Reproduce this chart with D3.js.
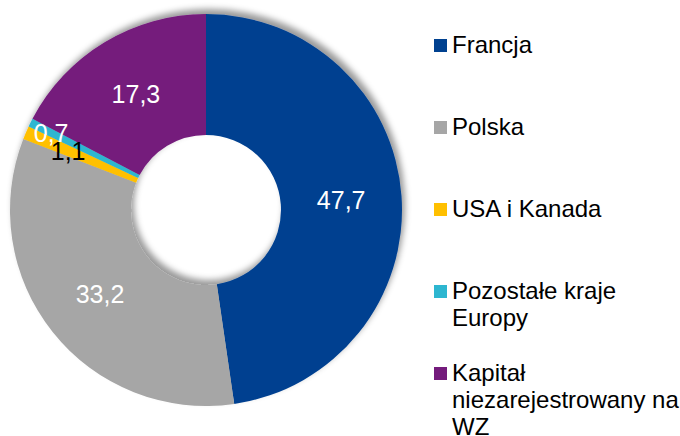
<!DOCTYPE html>
<html>
<head>
<meta charset="utf-8">
<script src="https://cdn.jsdelivr.net/npm/d3@7"></script>
<style>
  body { margin: 0; background: #fff; }
  svg { display: block; font-family: "Liberation Sans", Arial, sans-serif; }
</style>
</head>
<body>
<div id="chart"></div>
<script>
var WIDTH = 680;
var HEIGHT = 436;

// data
var categories = ["Francja", "Polska", "USA i Kanada", "Pozostałe kraje Europy", "Kapitał niezarejestrowany na WZ"];
var shares = [47.7, 33.2, 1.1, 0.7, 17.3];
var labels = ["47,7", "33,2", "1,1", "0,7", "17,3"];
var legendLines = [["Francja"], ["Polska"], ["USA i Kanada"], ["Pozostałe kraje", "Europy"], ["Kapitał", "niezarejestrowany na", "WZ"]];

var colors = ["#004190", "#a6a6a6", "#ffc000", "#2db6d0", "#741b7c"];
var labelColors = ["#fff", "#fff", "#000", "#fff", "#fff"];

var CX = 206;
var CY = 210;
var OUTER = 196;
var INNER = 75;

var svg = d3.select("#chart").append("svg")
  .attr("width", WIDTH)
  .attr("height", HEIGHT);

// soft shadow like the original office chart
var defs = svg.append("defs");
defs.append("filter")
  .attr("id", "shadow")
  .attr("x", "-20%").attr("y", "-20%")
  .attr("width", "140%").attr("height", "140%")
  .append("feDropShadow")
  .attr("dx", 3)
  .attr("dy", -5)
  .attr("stdDeviation", 3)
  .attr("flood-color", "#000")
  .attr("flood-opacity", 0.4);

var pie = d3.pie().sort(null).value(function(d) { return d; });
var arcs = pie(shares);

var arc = d3.arc().innerRadius(INNER).outerRadius(OUTER);

var plot = svg.append("g")
  .attr("transform", "translate(" + CX + "," + CY + ")");

plot.append("g")
  .attr("filter", "url(#shadow)")
  .selectAll("path")
  .data(arcs)
  .enter()
  .append("path")
  .attr("d", arc)
  .attr("fill", function(d, i) { return colors[i]; });

// small slices get their labels pushed outward
function labelRadius(d) {
  var pct = d.data;
  if (pct < 1) return 173;
  if (pct < 2) return 150;
  return (INNER + OUTER) / 2;
}

plot.selectAll(".lbl")
  .data(arcs)
  .enter()
  .append("text")
  .attr("class", "lbl")
  .attr("transform", function(d) {
    var r = labelRadius(d);
    var c = d3.arc().innerRadius(r).outerRadius(r).centroid(d);
    return "translate(" + c[0] + "," + c[1] + ")";
  })
  .attr("text-anchor", "middle")
  .attr("dominant-baseline", "central")
  .attr("font-size", 25)
  .attr("fill", function(d, i) { return labelColors[i]; })
  .text(function(d, i) { return labels[i]; });

// legend
var LEGEND_X = 434;
var LEGEND_TOP = 53;
var LEGEND_STEP = 82;
var LINE_H = 27;

var legend = svg.append("g");
var items = legend.selectAll("g")
  .data(categories)
  .enter()
  .append("g")
  .attr("transform", function(d, i) {
    return "translate(" + LEGEND_X + "," + (LEGEND_TOP + i * LEGEND_STEP) + ")";
  });

items.append("rect")
  .attr("x", 0)
  .attr("y", -14)
  .attr("width", 13)
  .attr("height", 13)
  .attr("fill", function(d, i) { return colors[i]; });

items.append("text")
  .attr("x", 18)
  .attr("y", 0)
  .attr("font-size", 24)
  .attr("fill", "#000")
  .selectAll("tspan")
  .data(function(d, i) { return legendLines[i]; })
  .enter()
  .append("tspan")
  .attr("x", 18)
  .attr("dy", function(d, j) { return j === 0 ? 0 : LINE_H; })
  .text(function(d) { return d; });
</script>
</body>
</html>
